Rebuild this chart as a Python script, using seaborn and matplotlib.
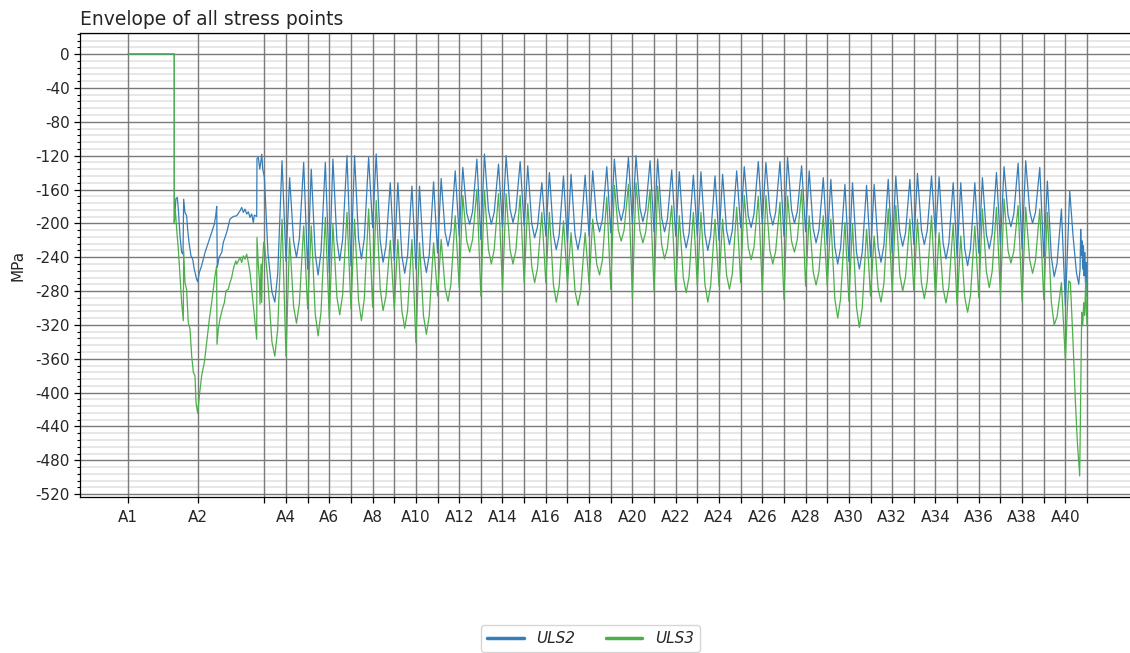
import matplotlib
matplotlib.use("Agg")
import matplotlib.pyplot as plt
from matplotlib.ticker import FixedLocator, MultipleLocator
import pandas as pd
import seaborn as sns

# ---------------------------------------------------------------------------
# Supports along the girder (chainage in m) and the labels printed on the axis
# ---------------------------------------------------------------------------
support_chainage = [0, 97, 189, 219, 249, 279, 309, 339, 369, 399, 429, 459,
                    489, 519, 549, 579, 609, 639, 669, 699, 729, 759, 789, 819,
                    849, 879, 909, 939, 969, 999, 1029, 1059, 1089, 1119, 1149,
                    1179, 1209, 1239, 1269, 1299, 1329]
support_labels = ["A1", "A2", "", "A4", "", "A6", "", "A8", "", "A10", "",
                  "A12", "", "A14", "", "A16", "", "A18", "", "A20", "", "A22",
                  "", "A24", "", "A26", "", "A28", "", "A30", "", "A32", "",
                  "A34", "", "A36", "", "A38", "", "A40", ""]
y_ticks = [0, -40, -80, -120, -160, -200, -240, -280, -320, -360, -400, -440,
           -480, -520]

combos = ["ULS2", "ULS3"]

# ---------------------------------------------------------------------------
# End span A1 - A3 (irregular, listed point by point)
# ---------------------------------------------------------------------------
lead_uls2_x = [0, 64.2, 64.2, 66.5, 68.4, 69.8, 72.1, 74.4, 76.3, 77.2, 79.0,
               81.3, 82.7, 84.6, 87.3, 89.7, 91.9, 95.2, 96.6, 98.9, 102.1,
               106.8, 111.4, 116.0, 119.7, 121.6, 123.0, 123.8, 126.2, 129.9,
               132.1, 136.8, 141.4, 146.0, 150.7, 155.3, 157.6, 159.9, 162.2,
               164.6, 166.8, 169.1, 171.5, 173.7, 175.1, 178.4, 178.8, 180.7,
               182.6, 184.0, 185.4, 186.8]
lead_uls2 = [0, 0, -199, -170.6, -169.4, -183, -214.7, -234.4, -236.4, -171.4,
             -187, -191, -206.8, -222.6, -238.4, -242.3, -254.1, -266, -269,
             -258, -250, -234.4, -222.6, -210.8, -201, -191, -180, -252,
             -240.3, -234.4, -222.6, -210.8, -195, -191.9, -191, -185.2,
             -181.2, -187.1, -183.2, -189, -186.4, -193, -189, -199, -190.3,
             -191.9, -123.3, -122.1, -135.9, -128, -118.2, -136]

lead_uls3_x = [0, 64.2, 64.2, 65.7, 67.5, 69.8, 72.1, 74.4, 76.7, 77.2, 79.0,
               81.3, 83.6, 86.0, 88.3, 90.6, 92.9, 94.3, 96.6, 98.9, 102.1,
               105.8, 109.1, 112.8, 116.0, 120.6, 122.9, 123.4, 125.2, 127.5,
               130.8, 133.6, 135.9, 139.1, 141.4, 143.7, 146.0, 149.3, 150.7,
               153.0, 155.3, 157.6, 159.9, 162.2, 164.5, 166.8, 169.1, 171.5,
               173.8, 176.1, 178.4, 178.8, 180.7, 182.1, 183.0, 184.4, 185.3,
               186.2, 188.1]
lead_uls3 = [0, 0, -199, -185, -207, -230.5, -262, -293.5, -315, -232.5, -270,
             -278, -317.2, -325, -356.6, -376, -380, -411.7, -424.3, -404,
             -380, -364.5, -340.8, -313, -293.5, -262, -250.2, -342.8, -325,
             -313, -301.4, -293.5, -279.7, -277.8, -270, -264, -254, -244.3,
             -248.2, -244.3, -240.3, -246.2, -238.4, -242.3, -236.4, -246.2,
             -258, -277.8, -297.5, -317.2, -336.9, -216.7, -250.2, -266,
             -295.5, -248.2, -293.5, -250.2, -222.6]

# ---------------------------------------------------------------------------
# Regular 30 m spans A3 - A40: value over each support, then per span the peak
# next to the left support, the flank, the mid-span trough, the other flank and
# the peak next to the right support
# ---------------------------------------------------------------------------
span_offsets = [5, 10.5, 14.5, 18.5, 24.5]   # m from the left support

uls2_support = [-145, -245, -254, -258, -250, -205, -244, -254, -235, -215,
                -219, -205, -203, -215, -223, -215, -211, -200, -210, -215,
                -215, -220, -205, -200, -215, -210, -225, -245, -240, -235,
                -225, -215, -240, -235, -225, -230, -240, -297]
uls2_peak_left = [-235, -146, -136, -124, -120, -118, -152, -156, -147, -134,
                  -118, -120, -132, -140, -142, -138, -124, -120, -124, -139,
                  -139, -142, -133, -128, -122, -138, -148, -152, -154, -144,
                  -141, -145, -152, -146, -133, -126, -150]
uls2_flank_left = [-281, -221, -236, -220, -218, -220, -238, -238, -211, -188,
                   -184, -183, -200, -213, -213, -196, -182, -182, -193, -211,
                   -213, -208, -191, -187, -184, -206, -228, -234, -228, -210,
                   -208, -223, -230, -213, -190, -185, -240]
uls2_mid = [-293, -240, -261, -244, -242, -246, -259, -258, -227, -201, -201,
            -199, -217, -231, -231, -210, -197, -198, -210, -229, -232, -225,
            -205, -202, -200, -223, -248, -254, -246, -227, -225, -242, -250,
            -230, -204, -200, -263]
uls2_flank_right = [-260, -218, -234, -219, -218, -227, -238, -237, -209, -186,
                    -187, -185, -204, -214, -213, -195, -182, -184, -195, -212,
                    -214, -208, -189, -187, -186, -208, -229, -234, -226, -211,
                    -209, -224, -230, -212, -189, -187, -247]
uls2_peak_right = [-126, -128, -128, -120, -122, -152, -156, -151, -138, -124,
                   -130, -127, -152, -144, -143, -133, -122, -126, -137, -143,
                   -144, -138, -127, -127, -132, -146, -154, -155, -148, -148,
                   -144, -152, -152, -140, -129, -134, -183]

uls3_support = [-222, -357, -301, -313, -301, -299, -301, -341, -286, -276,
                -286, -278, -270, -270, -272, -272, -278, -288, -280, -280,
                -274, -274, -270, -280, -290, -274, -274, -292, -286, -280,
                -280, -288, -297, -288, -286, -292, -290, -362]
uls3_peak_left = [-270, -217, -203, -201, -195, -173, -219, -223, -219, -167,
                  -161, -165, -177, -187, -211, -195, -155, -152, -156, -191,
                  -187, -195, -167, -167, -168, -191, -195, -201, -215, -179,
                  -195, -211, -215, -183, -171, -181, -187]
uls3_flank_left = [-340, -298, -307, -287, -291, -277, -303, -309, -277, -221,
                   -231, -231, -251, -272, -280, -248, -208, -209, -225, -264,
                   -272, -261, -228, -232, -221, -257, -289, -299, -277, -260,
                   -270, -277, -287, -257, -232, -243, -293]
uls3_mid = [-357, -318, -333, -308, -315, -303, -324, -331, -292, -234, -248,
            -248, -270, -293, -297, -261, -221, -223, -242, -282, -293, -278,
            -243, -248, -234, -273, -312, -323, -293, -280, -289, -294, -305,
            -276, -247, -259, -320]
uls3_flank_right = [-325, -295, -305, -284, -289, -286, -303, -309, -272, -219,
                    -231, -232, -253, -274, -280, -243, -208, -210, -229, -263,
                    -273, -259, -228, -233, -219, -257, -289, -300, -271, -263,
                    -269, -275, -285, -257, -233, -244, -310]
uls3_peak_right = [-195, -203, -193, -187, -183, -220, -219, -223, -191, -160,
                   -165, -167, -187, -197, -211, -169, -154, -160, -179, -187,
                   -195, -181, -168, -175, -160, -191, -199, -207, -183, -195,
                   -191, -201, -203, -181, -179, -183, -270]

# ---------------------------------------------------------------------------
# End span A40 - A41 (irregular, listed point by point)
# ---------------------------------------------------------------------------
tail_uls2_x = [1305, 1309.6, 1314.3, 1317.5, 1319.3, 1320.2, 1321.2, 1322,
               1323, 1324, 1324.9, 1325.8, 1326.8, 1327.7, 1329]
tail_uls2 = [-161.5, -214.7, -258, -272, -254, -207, -238, -220.6, -254,
             -226.5, -262, -234.4, -270, -246, -285.6]
tail_uls3_x = [1301.7, 1303.6, 1305.9, 1309.6, 1312.9, 1315.6, 1318.8, 1320.7,
               1321.6, 1323, 1324.4, 1325.8, 1327.2, 1328.1, 1329]
tail_uls3 = [-301, -268, -270, -340.8, -411.7, -459, -498.4, -364.5, -305.3,
             -321, -293.5, -309, -266, -301, -321]


def envelope(lead_x, lead_y, on_support, span_series, tail_x, tail_y):
    """Chain the end spans and the regular spans into one polyline."""
    xs, ys = list(lead_x), list(lead_y)
    for i, s in enumerate(support_chainage[2:2 + len(on_support)]):
        xs.append(s)
        ys.append(on_support[i])
        if i < len(span_series[0]):
            for off, series in zip(span_offsets, span_series):
                xs.append(s + off)
                ys.append(series[i])
    xs += tail_x
    ys += tail_y
    return xs, ys


x2, y2 = envelope(lead_uls2_x, lead_uls2, uls2_support,
                  [uls2_peak_left, uls2_flank_left, uls2_mid,
                   uls2_flank_right, uls2_peak_right],
                  tail_uls2_x, tail_uls2)
x3, y3 = envelope(lead_uls3_x, lead_uls3, uls3_support,
                  [uls3_peak_left, uls3_flank_left, uls3_mid,
                   uls3_flank_right, uls3_peak_right],
                  tail_uls3_x, tail_uls3)

df = pd.concat([
    pd.DataFrame({"chainage": x2, "stress": y2, "combo": combos[0]}),
    pd.DataFrame({"chainage": x3, "stress": y3, "combo": combos[1]}),
], ignore_index=True)

# ---------------------------------------------------------------------------
# Figure
# ---------------------------------------------------------------------------
sns.set_theme(style="white")
plt.rcParams["font.family"] = ["DejaVu Sans"]
plt.rcParams["axes.unicode_minus"] = False

colors = {"ULS2": "#377eb8", "ULS3": "#4daf4a"}

fig = plt.figure(figsize=(11.3, 6.53), dpi=100)
ax = fig.add_axes([80 / 1130, 1 - 497 / 653, 1055 / 1130, 464 / 653])

sns.lineplot(data=df, x="chainage", y="stress", hue="combo",
             hue_order=combos, palette=colors, estimator=None, sort=False,
             linewidth=0.9, ax=ax, legend=True)

ax.set_axisbelow(True)
# light horizontal minor grid underneath the vertical support lines
ax.yaxis.set_zorder(0.3)
ax.xaxis.set_zorder(0.4)

ax.xaxis.set_major_locator(FixedLocator(support_chainage))
ax.set_xticklabels(support_labels)
ax.yaxis.set_major_locator(FixedLocator(y_ticks))
ax.set_yticklabels([str(v) for v in y_ticks])
ax.yaxis.set_minor_locator(MultipleLocator(8))

ax.grid(which="major", axis="both", color="#7a7a7a", linewidth=1.0)
ax.grid(which="minor", axis="y", color="#e3e3e3", linewidth=1.2)

ax.tick_params(axis="both", which="major", direction="out", length=4,
               width=0.9, color="black", labelsize=11, bottom=True, left=True)
ax.tick_params(axis="y", which="minor", direction="out", length=2.5,
               width=0.8, color="black", left=True)
ax.tick_params(axis="x", pad=5)

for side in ("left", "bottom", "top"):
    ax.spines[side].set_visible(True)
    ax.spines[side].set_color("black")
    ax.spines[side].set_linewidth(0.9)
ax.spines["right"].set_visible(False)

ax.set_xlabel("")
ax.set_ylabel("MPa", fontsize=11, labelpad=7)
ax.set_title("Envelope of all stress points", loc="left", fontsize=13.5, pad=6)

handles, labels = ax.get_legend_handles_labels()
ax.get_legend().remove()
leg = fig.legend(handles, labels, loc="center", ncol=2,
                 bbox_to_anchor=(590.5 / 1130, 1 - 638.5 / 653),
                 prop={"style": "italic", "size": 11}, frameon=True,
                 edgecolor="#cccccc", handlelength=2.4, columnspacing=2.0,
                 borderpad=0.4)
for line in leg.get_lines():
    line.set_linewidth(2.5)

fig.savefig("out.png", dpi=100)
